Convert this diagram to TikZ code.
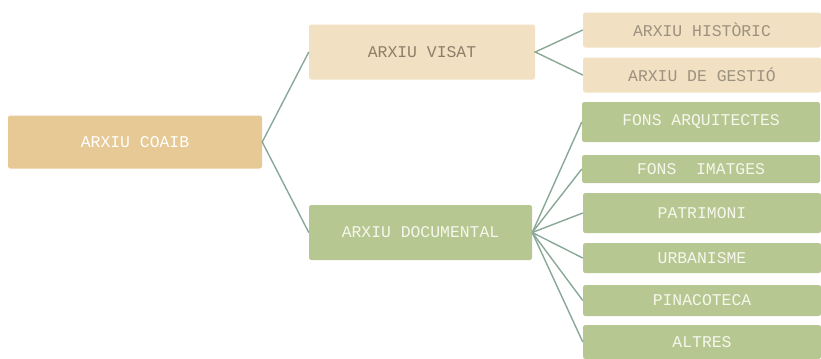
\documentclass[tikz,border=0pt]{standalone}
\usepackage{fontspec}
\setmonofont{Liberation Mono}
\usetikzlibrary{positioning}
\definecolor{tanFill}{RGB}{230,201,148}
\definecolor{beigeFill}{RGB}{241,225,194}
\definecolor{beigeText}{RGB}{140,126,104}
\definecolor{greenFill}{RGB}{183,199,146}
\definecolor{greenText}{RGB}{246,247,236}
\definecolor{linkGray}{RGB}{138,168,150}

\begin{document}
\begin{tikzpicture}[x=0.03cm, y=-0.03cm,
    box/.style={rounded corners=2pt, inner sep=0pt, font=\ttfamily\fontsize{14}{16}\selectfont},
    rootbox/.style={box, fill=tanFill, text=white, minimum width=254*0.03cm, minimum height=53*0.03cm},
    midbeige/.style={box, fill=beigeFill, text=beigeText, minimum width=226*0.03cm, minimum height=55*0.03cm},
    midgreen/.style={box, fill=greenFill, text=greenText, minimum width=223*0.03cm, minimum height=55*0.03cm},
    leafbeige/.style={box, fill=beigeFill, text=beigeText!85, minimum width=238*0.03cm, minimum height=35*0.03cm},
    leafgreen/.style={box, fill=greenFill, text=greenText, minimum width=238*0.03cm, minimum height=33*0.03cm},
    link/.style={draw=linkGray, line width=1.2pt}]
    % Frame
    \useasboundingbox (0,0) rectangle (821,358);

    % Root
    \node[rootbox] (coaib) at (135,142) {ARXIU COAIB};

    % Second level
    \node[midbeige] (visat) at (422,52) {ARXIU VISAT};
    \node[midgreen] (docu) at (420.5,232.5) {ARXIU DOCUMENTAL};

    % Leaves of the visat archive
    \node[leafbeige] (hist) at (702,30) {ARXIU HISTÒRIC};
    \node[leafbeige] (gest) at (702,75) {ARXIU DE GESTIÓ};

    % Leaves of the documentary archive
    \node[leafgreen, minimum height=40*0.03cm] (arq) at (701,122) {FONS ARQUITECTES};
    \node[leafgreen, minimum height=28*0.03cm] (imat) at (701,169) {FONS\ \ IMATGES};
    \node[leafgreen, minimum height=40*0.03cm] (patr) at (702,213) {PATRIMONI};
    \node[leafgreen, minimum height=30*0.03cm] (urba) at (702,258) {URBANISME};
    \node[leafgreen, minimum height=31*0.03cm] (pina) at (702,300.5) {PINACOTECA};
    \node[leafgreen, minimum height=34*0.03cm] (altr) at (702,342) {ALTRES};

    % Connectors
    \draw[link] (visat.west) -- (coaib.east) -- (docu.west);
    \draw[link] (hist.west) -- (visat.east) -- (gest.west);
    \foreach \leaf in {arq, imat, patr, urba, pina, altr}
        \draw[link] (docu.east) -- (\leaf.west);
\end{tikzpicture}
\end{document}
